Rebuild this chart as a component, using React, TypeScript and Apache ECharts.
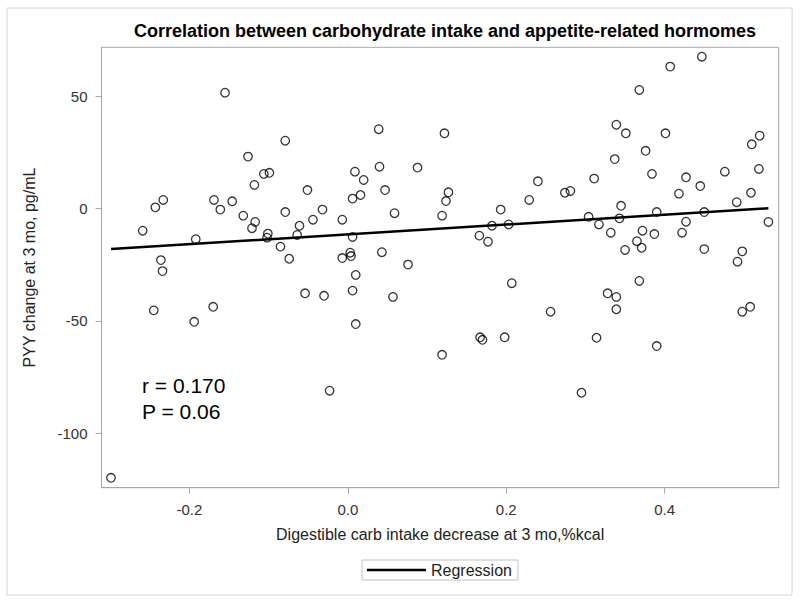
import React, { useEffect, useRef } from "react";
import * as echarts from "echarts";

const titleText = "Correlation between carbohydrate intake and appetite-related hormomes";
const xAxisName = "Digestible carb intake decrease at 3 mo,%kcal";
const yAxisName = "PYY change at 3 mo, pg/mL";
const xTicks = [-0.2, 0.0, 0.2, 0.4];
const yTicks = [-100, -50, 0, 50];
const statLines = ["r = 0.170", "P = 0.06"];

const carbDecrease = [
  -0.155, -0.079, -0.126, -0.106, -0.099, -0.118, -0.051, -0.243, -0.233, -0.169,
  -0.161, -0.146, -0.132, -0.079, -0.032, -0.117, -0.121, -0.044, -0.061, -0.259,
  -0.192, -0.101, -0.102, -0.064, -0.085, -0.236, -0.074, 0.039, 0.122, 0.009,
  0.040, 0.088, 0.020, 0.240, 0.006, 0.016, 0.047, 0.127, 0.124, 0.229,
  0.059, 0.119, 0.193, -0.007, 0.006, 0.182, 0.203, 0.166, 0.177, 0.003,
  0.004, -0.007, 0.043, 0.076, 0.447, 0.407, 0.368, 0.339, 0.351, 0.401,
  0.520, 0.510, 0.376, 0.337, 0.519, 0.476, 0.384, 0.311, 0.427, 0.445,
  0.274, 0.281, 0.418, 0.509, 0.491, 0.345, 0.304, 0.343, 0.390, 0.450,
  0.317, 0.427, 0.531, 0.332, 0.372, 0.387, 0.422, 0.365, 0.350, 0.371,
  0.450, 0.498, 0.492, -0.234, -0.054, -0.030, -0.245, -0.170, -0.194, -0.023,
  -0.299, 0.010, 0.006, 0.057, 0.010, 0.207, 0.256, 0.167, 0.170, 0.198,
  0.119, 0.368, 0.328, 0.339, 0.339, 0.498, 0.508, 0.314, 0.390, 0.295,
];

const pyyChange = [
  51.7, 30.3, 23.2, 15.5, 16.0, 10.6, 8.3, 0.6, 3.9, 3.9,
  -0.4, 3.3, -3.1, -1.5, -0.4, -5.9, -8.7, -4.9, -7.6, -9.8,
  -13.6, -11.1, -12.9, -11.7, -16.9, -22.9, -22.3, 35.4, 33.6, 16.5,
  18.7, 18.3, 12.8, 12.2, 4.5, 6.1, 8.3, 7.3, 3.4, 3.9,
  -2.0, -3.1, -0.4, -4.9, -12.6, -7.6, -7.0, -12.0, -14.7, -19.6,
  -21.1, -22.0, -19.4, -24.9, 67.7, 63.3, 52.9, 37.4, 33.6, 33.6,
  32.5, 28.7, 25.8, 22.1, 17.7, 16.5, 15.5, 13.4, 14.0, 10.1,
  7.1, 7.9, 6.7, 7.1, 2.9, 1.3, -3.6, -4.3, -1.5, -1.5,
  -7.0, -5.8, -5.9, -10.7, -9.8, -11.3, -10.7, -14.5, -18.4, -17.4,
  -18.0, -19.0, -23.6, -27.8, -37.7, -38.8, -45.3, -43.7, -50.4, -81.1,
  -119.9, -29.5, -36.5, -39.3, -51.4, -33.2, -45.9, -57.3, -58.4, -57.3,
  -65.1, -32.2, -37.7, -39.3, -44.8, -45.9, -43.7, -57.5, -61.2, -82.0,
];

const regressionX = [-0.299, 0.531];
const regressionY = [-18.0, 0.2];

const FONT = "'Liberation Sans', Arial, sans-serif";

export default function App() {
  const ref = useRef<HTMLDivElement>(null);
  useEffect(() => {
    if (!ref.current) return;
    const chart = echarts.init(ref.current, undefined, { renderer: "svg" });
    const scatterData = carbDecrease.map((x, i) => [x, pyyChange[i]]);
    const regData = regressionX.map((x, i) => [x, regressionY[i]]);
    chart.setOption({
      animation: false,
      backgroundColor: "#fff",
      title: {
        text: titleText,
        left: 440,
        textAlign: "center",
        top: 17,
        textStyle: { fontFamily: FONT, fontSize: 18, fontWeight: "bold", color: "#000" },
      },
      grid: {
        left: 101.5,
        right: 21.3,
        top: 47.3,
        bottom: 115.3,
        show: true,
        borderColor: "#a8a8a8",
        borderWidth: 1,
        backgroundColor: "transparent",
      },
      legend: {
        data: [{ name: "Regression", icon: "rect" }],
        left: 362,
        top: 560,
        orient: "horizontal",
        itemWidth: 59,
        itemHeight: 2.5,
        itemGap: 5,
        padding: [2, 6, 2, 5],
        borderColor: "#c0c0c0",
        borderWidth: 1,
        borderRadius: 0,
        itemStyle: { color: "#000", borderWidth: 0 },
        textStyle: { fontFamily: FONT, fontSize: 16, color: "#222" },
      },
      xAxis: {
        type: "value",
        min: -0.311,
        max: 0.544,
        name: xAxisName,
        nameLocation: "middle",
        nameGap: 39,
        nameTextStyle: { fontFamily: FONT, fontSize: 16, color: "#222" },
        axisLine: { show: true, onZero: false, lineStyle: { color: "#a8a8a8", width: 1 } },
        splitLine: { show: false },
        axisTick: {
          show: true,
          length: 6,
          lineStyle: { color: "#a8a8a8" },
          customValues: xTicks,
        },
        axisLabel: {
          margin: 14,
          fontFamily: FONT,
          fontSize: 15,
          color: "#333",
          customValues: xTicks,
          formatter: (v: number) => v.toFixed(1),
        },
      },
      yAxis: {
        type: "value",
        min: -124.3,
        max: 71.9,
        name: yAxisName,
        nameLocation: "middle",
        nameGap: 64,
        nameTextStyle: { fontFamily: FONT, fontSize: 16, color: "#222" },
        axisLine: { show: true, onZero: false, lineStyle: { color: "#a8a8a8", width: 1 } },
        splitLine: { show: false },
        axisTick: {
          show: true,
          length: 6,
          lineStyle: { color: "#a8a8a8" },
          customValues: yTicks,
        },
        axisLabel: {
          margin: 14,
          fontFamily: FONT,
          fontSize: 15,
          color: "#333",
          customValues: yTicks,
          formatter: (v: number) => String(v),
        },
      },
      graphic: [
        {
          type: "rect",
          shape: { x: 7, y: 8, width: 785, height: 587 },
          style: { fill: "none", stroke: "#d4d4d4", lineWidth: 1 },
          silent: true,
        },
        {
          type: "text",
          left: 142,
          top: 372,
          style: {
            text: statLines.join("\n"),
            fontFamily: FONT,
            fontSize: 21,
            lineHeight: 26,
            fill: "#000",
          },
        },
      ],
      series: [
        {
          type: "scatter",
          name: "Data",
          data: scatterData,
          symbol: "circle",
          symbolSize: 8.5,
          itemStyle: { color: "rgba(0,0,0,0)", borderColor: "#000", borderWidth: 1.3 },
          z: 3,
        },
        {
          type: "line",
          name: "Regression",
          data: regData,
          symbol: "none",
          lineStyle: { color: "#000", width: 2.5 },
          itemStyle: { color: "#000" },
          z: 2,
        },
      ],
    });
    return () => chart.dispose();
  }, []);
  return (
    <div
      ref={ref}
      style={{ position: "absolute", left: 0, top: 0, width: 800, height: 603 }}
    />
  );
}
